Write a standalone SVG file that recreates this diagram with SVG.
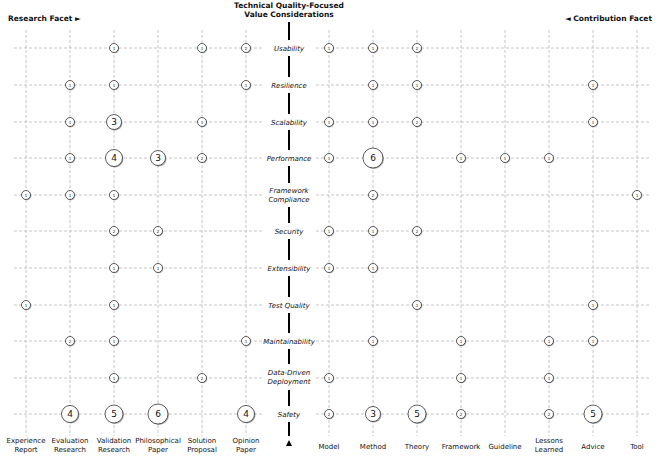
<svg xmlns="http://www.w3.org/2000/svg" width="660" height="460" viewBox="0 0 660 460">
<style>
text{font-family:"DejaVu Sans","Liberation Sans",sans-serif;fill:#111}
.g{stroke:#b8b8b8;stroke-width:0.8;stroke-dasharray:3,2;fill:none}
.ax{stroke:#000;stroke-width:2}
.cat{font-size:7px;font-style:italic;text-anchor:middle}
.col{font-size:7px;text-anchor:middle}
.hd{font-size:7.5px;font-weight:bold}
circle.s{fill:#777;opacity:.6}
circle.f{fill:#fff;stroke:#333;stroke-width:0.8}
.n1{font-size:4px;text-anchor:middle}
.n2{font-size:9px;text-anchor:middle}
</style>
<rect width="660" height="460" fill="#fff"/>
<text class="hd" x="8" y="21">Research Facet ►</text>
<text class="hd" x="652" y="21" text-anchor="end">◄ Contribution Facet</text>
<text class="hd" x="289" y="8" text-anchor="middle">Technical Quality-Focused</text>
<text class="hd" x="289" y="17" text-anchor="middle">Value Considerations</text>
<g id="grid">
<path class="g" d="M26 30V436M70 30V436M114 30V436M158 30V436M202 30V436M246 30V436M329 30V436M373 30V436M417 30V436M461 30V436M505 30V436M549 30V436M593 30V436M637 30V436"/>
<path class="g" d="M14 48H262M14 85H262M14 122H262M14 158H262M14 195H262M14 231H262M14 268H262M14 305H262M14 341H262M14 378H262M14 414H262M316 48H650M316 85H650M316 122H650M316 158H650M316 195H650M316 231H650M316 268H650M316 305H650M316 341H650M316 378H650M316 414H650"/>
</g>
<g id="connectors">
<path class="ax" d="M289 22V40M289 56V77M289 93V114M289 130V150M289 166V183M289 207V223M289 239V260M289 276V297M289 313V333M289 349V364M289 390V406M289 422V436"/>
<path d="M286 446L289 440L292 446Z" fill="#000"/>
</g>
<g id="categories">
<text class="cat" x="289" y="51">Usability</text>
<text class="cat" x="289" y="88">Resilience</text>
<text class="cat" x="289" y="125">Scalability</text>
<text class="cat" x="289" y="161">Performance</text>
<text class="cat" x="289" y="193">Framework</text>
<text class="cat" x="289" y="202">Compliance</text>
<text class="cat" x="289" y="234">Security</text>
<text class="cat" x="289" y="271">Extensibility</text>
<text class="cat" x="289" y="308">Test Quality</text>
<text class="cat" x="289" y="344">Maintainability</text>
<text class="cat" x="289" y="375">Data-Driven</text>
<text class="cat" x="289" y="384">Deployment</text>
<text class="cat" x="289" y="417">Safety</text>
</g>
<g id="columns">
<text class="col" x="26" y="443">Experience</text><text class="col" x="26" y="452">Report</text>
<text class="col" x="70" y="443">Evaluation</text><text class="col" x="70" y="452">Research</text>
<text class="col" x="114" y="443">Validation</text><text class="col" x="114" y="452">Research</text>
<text class="col" x="158" y="443">Philosophical</text><text class="col" x="158" y="452">Paper</text>
<text class="col" x="202" y="443">Solution</text><text class="col" x="202" y="452">Proposal</text>
<text class="col" x="246" y="443">Opinion</text><text class="col" x="246" y="452">Paper</text>
<text class="col" x="329" y="449">Model</text>
<text class="col" x="373" y="449">Method</text>
<text class="col" x="417" y="449">Theory</text>
<text class="col" x="461" y="449">Framework</text>
<text class="col" x="505" y="449">Guideline</text>
<text class="col" x="549" y="443">Lessons</text><text class="col" x="549" y="452">Learned</text>
<text class="col" x="593" y="449">Advice</text>
<text class="col" x="637" y="449">Tool</text>
</g>
<defs>
<g id="s1"><circle class="s" cx="0.8" cy="0.8" r="4.5"/><circle class="f" r="4.5"/></g>
<g id="s3"><circle class="s" cx="1" cy="1" r="7.5"/><circle class="f" r="7.5"/></g>
<g id="s4"><circle class="s" cx="1" cy="1" r="8.5"/><circle class="f" r="8.5"/></g>
<g id="s5"><circle class="s" cx="1" cy="1" r="9"/><circle class="f" r="9"/></g>
<g id="s6"><circle class="s" cx="1" cy="1" r="10"/><circle class="f" r="10"/></g>
</defs>
<g id="bubbles">
<use href="#s1" x="114" y="48"/><text class="n1" x="114" y="49.5">1</text>
<use href="#s1" x="202" y="48"/><text class="n1" x="202" y="49.5">1</text>
<use href="#s1" x="246" y="48"/><text class="n1" x="246" y="49.5">2</text>
<use href="#s1" x="329" y="48"/><text class="n1" x="329" y="49.5">1</text>
<use href="#s1" x="373" y="48"/><text class="n1" x="373" y="49.5">1</text>
<use href="#s1" x="417" y="48"/><text class="n1" x="417" y="49.5">2</text>
<use href="#s1" x="70" y="85"/><text class="n1" x="70" y="86.5">1</text>
<use href="#s1" x="114" y="85"/><text class="n1" x="114" y="86.5">1</text>
<use href="#s1" x="246" y="85"/><text class="n1" x="246" y="86.5">1</text>
<use href="#s1" x="373" y="85"/><text class="n1" x="373" y="86.5">1</text>
<use href="#s1" x="417" y="85"/><text class="n1" x="417" y="86.5">1</text>
<use href="#s1" x="593" y="85"/><text class="n1" x="593" y="86.5">1</text>
<use href="#s1" x="70" y="122"/><text class="n1" x="70" y="123.5">1</text>
<use href="#s3" x="114" y="122"/><text class="n2" x="114" y="125">3</text>
<use href="#s1" x="202" y="122"/><text class="n1" x="202" y="123.5">1</text>
<use href="#s1" x="329" y="122"/><text class="n1" x="329" y="123.5">1</text>
<use href="#s1" x="373" y="122"/><text class="n1" x="373" y="123.5">1</text>
<use href="#s1" x="417" y="122"/><text class="n1" x="417" y="123.5">2</text>
<use href="#s1" x="593" y="122"/><text class="n1" x="593" y="123.5">1</text>
<use href="#s1" x="70" y="158"/><text class="n1" x="70" y="159.5">1</text>
<use href="#s4" x="114" y="158"/><text class="n2" x="114" y="161">4</text>
<use href="#s3" x="158" y="158"/><text class="n2" x="158" y="161">3</text>
<use href="#s1" x="202" y="158"/><text class="n1" x="202" y="159.5">2</text>
<use href="#s1" x="329" y="158"/><text class="n1" x="329" y="159.5">1</text>
<use href="#s6" x="373" y="158"/><text class="n2" x="373" y="161">6</text>
<use href="#s1" x="461" y="158"/><text class="n1" x="461" y="159.5">1</text>
<use href="#s1" x="505" y="158"/><text class="n1" x="505" y="159.5">1</text>
<use href="#s1" x="549" y="158"/><text class="n1" x="549" y="159.5">1</text>
<use href="#s1" x="26" y="195"/><text class="n1" x="26" y="196.5">1</text>
<use href="#s1" x="70" y="195"/><text class="n1" x="70" y="196.5">1</text>
<use href="#s1" x="114" y="195"/><text class="n1" x="114" y="196.5">1</text>
<use href="#s1" x="373" y="195"/><text class="n1" x="373" y="196.5">2</text>
<use href="#s1" x="637" y="195"/><text class="n1" x="637" y="196.5">1</text>
<use href="#s1" x="114" y="231"/><text class="n1" x="114" y="232.5">2</text>
<use href="#s1" x="158" y="231"/><text class="n1" x="158" y="232.5">2</text>
<use href="#s1" x="329" y="231"/><text class="n1" x="329" y="232.5">1</text>
<use href="#s1" x="373" y="231"/><text class="n1" x="373" y="232.5">1</text>
<use href="#s1" x="417" y="231"/><text class="n1" x="417" y="232.5">2</text>
<use href="#s1" x="114" y="268"/><text class="n1" x="114" y="269.5">1</text>
<use href="#s1" x="158" y="268"/><text class="n1" x="158" y="269.5">1</text>
<use href="#s1" x="329" y="268"/><text class="n1" x="329" y="269.5">1</text>
<use href="#s1" x="373" y="268"/><text class="n1" x="373" y="269.5">1</text>
<use href="#s1" x="26" y="305"/><text class="n1" x="26" y="306.5">1</text>
<use href="#s1" x="114" y="305"/><text class="n1" x="114" y="306.5">1</text>
<use href="#s1" x="417" y="305"/><text class="n1" x="417" y="306.5">1</text>
<use href="#s1" x="593" y="305"/><text class="n1" x="593" y="306.5">1</text>
<use href="#s1" x="70" y="341"/><text class="n1" x="70" y="342.5">2</text>
<use href="#s1" x="114" y="341"/><text class="n1" x="114" y="342.5">1</text>
<use href="#s1" x="246" y="341"/><text class="n1" x="246" y="342.5">1</text>
<use href="#s1" x="373" y="341"/><text class="n1" x="373" y="342.5">1</text>
<use href="#s1" x="461" y="341"/><text class="n1" x="461" y="342.5">1</text>
<use href="#s1" x="549" y="341"/><text class="n1" x="549" y="342.5">1</text>
<use href="#s1" x="593" y="341"/><text class="n1" x="593" y="342.5">1</text>
<use href="#s1" x="114" y="378"/><text class="n1" x="114" y="379.5">1</text>
<use href="#s1" x="202" y="378"/><text class="n1" x="202" y="379.5">2</text>
<use href="#s1" x="329" y="378"/><text class="n1" x="329" y="379.5">1</text>
<use href="#s1" x="461" y="378"/><text class="n1" x="461" y="379.5">1</text>
<use href="#s1" x="549" y="378"/><text class="n1" x="549" y="379.5">1</text>
<use href="#s4" x="70" y="414"/><text class="n2" x="70" y="417">4</text>
<use href="#s5" x="114" y="414"/><text class="n2" x="114" y="417">5</text>
<use href="#s6" x="158" y="414"/><text class="n2" x="158" y="417">6</text>
<use href="#s4" x="246" y="414"/><text class="n2" x="246" y="417">4</text>
<use href="#s1" x="329" y="414"/><text class="n1" x="329" y="415.5">2</text>
<use href="#s3" x="373" y="414"/><text class="n2" x="373" y="417">3</text>
<use href="#s5" x="417" y="414"/><text class="n2" x="417" y="417">5</text>
<use href="#s1" x="461" y="414"/><text class="n1" x="461" y="415.5">2</text>
<use href="#s1" x="549" y="414"/><text class="n1" x="549" y="415.5">2</text>
<use href="#s5" x="593" y="414"/><text class="n2" x="593" y="417">5</text>
</g>
</svg>
